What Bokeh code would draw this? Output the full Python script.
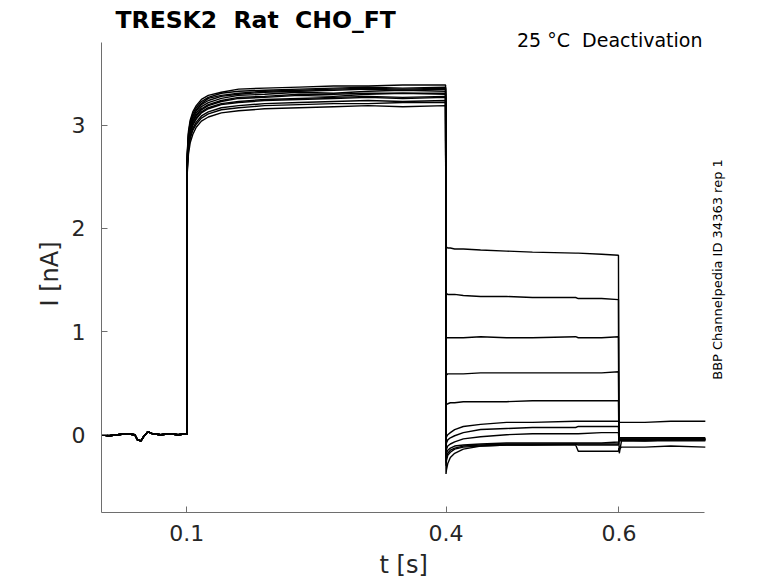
import math
from bokeh.plotting import figure
from bokeh.models import Range1d, FixedTicker, Label, Title
from bokeh.embed import file_html
from bokeh.resources import INLINE

# ---------------- data ----------------
x_ticks = [0.1, 0.4, 0.6]
x_tick_labels = ["0.1", "0.4", "0.6"]
y_ticks = [0, 1, 2, 3]
y_tick_labels = ["0", "1", "2", "3"]

# holding period before the pulse (shared by all sweeps)
t_pre = [0.0, 0.01, 0.02, 0.03, 0.04, 0.043, 0.047, 0.05, 0.055, 0.06, 0.07, 0.08, 0.09, 0.0995]
i_pre = [0.0, -0.01, 0.0, 0.01, 0.0, -0.05, -0.06, -0.02, 0.03, 0.01, 0.0, 0.01, 0.0, 0.01]

# activation step
t_act = [0.1, 0.1005, 0.102, 0.104, 0.107, 0.111, 0.117, 0.125, 0.14, 0.16, 0.19, 0.23, 0.27, 0.31, 0.35, 0.3995]
i_act = [
    [0.0, 2.62, 2.84, 2.95, 3.03, 3.09, 3.15, 3.19, 3.23, 3.26, 3.27, 3.29, 3.28, 3.30, 3.31, 3.30],
    [0.0, 2.68, 2.91, 3.01, 3.09, 3.15, 3.21, 3.26, 3.29, 3.31, 3.33, 3.34, 3.35, 3.36, 3.35, 3.36],
    [0.0, 2.55, 2.76, 2.87, 2.95, 3.01, 3.07, 3.11, 3.15, 3.17, 3.19, 3.20, 3.21, 3.21, 3.22, 3.22],
    [0.0, 2.64, 2.87, 2.98, 3.06, 3.12, 3.18, 3.22, 3.26, 3.29, 3.30, 3.32, 3.31, 3.33, 3.34, 3.33],
    [0.0, 2.60, 2.81, 2.92, 3.00, 3.06, 3.12, 3.16, 3.20, 3.22, 3.24, 3.25, 3.26, 3.27, 3.26, 3.27],
    [0.0, 2.72, 2.94, 3.05, 3.13, 3.19, 3.25, 3.29, 3.32, 3.35, 3.36, 3.37, 3.38, 3.38, 3.39, 3.39],
    [0.0, 2.52, 2.72, 2.83, 2.91, 2.98, 3.04, 3.08, 3.12, 3.14, 3.16, 3.17, 3.18, 3.19, 3.18, 3.19],
    [0.0, 2.63, 2.85, 2.96, 3.04, 3.10, 3.16, 3.20, 3.24, 3.27, 3.28, 3.30, 3.30, 3.31, 3.31, 3.31],
    [0.0, 2.66, 2.89, 3.00, 3.08, 3.14, 3.20, 3.24, 3.28, 3.30, 3.32, 3.33, 3.34, 3.35, 3.34, 3.35],
    [0.0, 2.57, 2.78, 2.89, 2.97, 3.03, 3.09, 3.13, 3.17, 3.19, 3.21, 3.22, 3.23, 3.24, 3.23, 3.24],
    [0.0, 2.70, 2.92, 3.03, 3.11, 3.17, 3.23, 3.27, 3.31, 3.33, 3.34, 3.35, 3.36, 3.37, 3.36, 3.37],
    [0.0, 2.61, 2.82, 2.93, 3.01, 3.07, 3.13, 3.17, 3.21, 3.23, 3.25, 3.26, 3.27, 3.28, 3.27, 3.28],
]

# deactivation (tail) step
t_tail = [0.4, 0.4005, 0.402, 0.405, 0.41, 0.42, 0.44, 0.47, 0.5, 0.55, 0.553, 0.58, 0.5995]
i_tail = [
    [1.82, 1.82, 1.81, 1.81, 1.80, 1.80, 1.79, 1.78, 1.77, 1.76, 1.76, 1.75, 1.74],
    [1.36, 1.37, 1.36, 1.36, 1.36, 1.35, 1.34, 1.34, 1.33, 1.33, 1.32, 1.32, 1.31],
    [0.93, 0.94, 0.94, 0.94, 0.94, 0.94, 0.95, 0.94, 0.94, 0.95, 0.94, 0.94, 0.95],
    [0.57, 0.58, 0.59, 0.59, 0.59, 0.59, 0.60, 0.60, 0.60, 0.60, 0.60, 0.60, 0.61],
    [0.28, 0.29, 0.30, 0.31, 0.31, 0.32, 0.32, 0.32, 0.33, 0.33, 0.33, 0.33, 0.33],
    [-0.05, -0.02, 0.00, 0.02, 0.05, 0.08, 0.10, 0.12, 0.12, 0.13, 0.13, 0.13, 0.13],
    [-0.12, -0.08, -0.05, -0.03, -0.01, 0.02, 0.05, 0.06, 0.07, 0.07, 0.08, 0.08, 0.08],
    [-0.18, -0.14, -0.11, -0.09, -0.07, -0.04, -0.02, 0.00, 0.01, 0.01, 0.01, 0.02, 0.02],
    [-0.22, -0.18, -0.15, -0.13, -0.11, -0.10, -0.09, -0.08, -0.08, -0.08, -0.08, -0.08, -0.07],
    [-0.27, -0.22, -0.18, -0.15, -0.13, -0.11, -0.10, -0.09, -0.09, -0.09, -0.09, -0.09, -0.09],
    [-0.38, -0.34, -0.28, -0.22, -0.18, -0.14, -0.11, -0.10, -0.10, -0.09, -0.10, -0.10, -0.10],
    [-0.30, -0.25, -0.20, -0.17, -0.14, -0.12, -0.11, -0.10, -0.10, -0.10, -0.16, -0.16, -0.16],
]

# after the tail step
t_post = [0.6, 0.6005, 0.603, 0.63, 0.66, 0.7]
i_post = [
    [-0.04, -0.05, -0.05, -0.05, -0.04, -0.04],
    [-0.05, -0.05, -0.05, -0.05, -0.05, -0.04],
    [-0.06, -0.18, -0.06, -0.06, -0.05, -0.05],
    [-0.04, -0.04, -0.04, -0.04, -0.04, -0.04],
    [-0.05, -0.05, -0.05, -0.06, -0.05, -0.05],
    [0.12, 0.12, 0.12, 0.12, 0.13, 0.13],
    [-0.03, -0.03, -0.03, -0.03, -0.03, -0.03],
    [-0.05, -0.05, -0.05, -0.05, -0.05, -0.05],
    [-0.06, -0.06, -0.06, -0.06, -0.06, -0.06],
    [-0.04, -0.04, -0.04, -0.04, -0.04, -0.04],
    [-0.05, -0.05, -0.05, -0.05, -0.05, -0.05],
    [-0.13, -0.14, -0.12, -0.12, -0.11, -0.12],
]

NBSP = "\u00a0"
title_text = "TRESK2" + NBSP + " Rat" + NBSP + " CHO_FT"
condition_text = "25 °C" + NBSP + " Deactivation"
id_text = "BBP Channelpedia ID 34363 rep 1"
x_label = "t [s]"
y_label = "I [nA]"

# axis extents (the visible spines)
x_axis_start, x_axis_end = 0.0014, 0.699
y_axis_start, y_axis_end = -0.754, 3.805

# ---------------- figure ----------------
FONT = "DejaVu Sans"
AXIS_COLOR = "#6e6e6e"
TEXT_COLOR = "#262626"

# the frame is extended to the top and right so the texts there can be drawn
# inside it; the axis lines are limited with `bounds`
p = figure(frame_width=669, frame_height=510, output_backend="svg", toolbar_location=None,
           x_range=Range1d(x_axis_start, 0.7754), y_range=Range1d(y_axis_start, 4.19),
           min_border_left=101, min_border_right=6, min_border_top=2, min_border_bottom=69)
p.title.visible = False
p.outline_line_color = None
p.xgrid.visible = False
p.ygrid.visible = False
p.background_fill_color = "white"
p.border_fill_color = "white"

xs = []
ys = []
for k in range(len(i_act)):
    xs.append(t_pre + t_act + t_tail + t_post)
    ys.append(i_pre + i_act[k] + i_tail[k] + i_post[k])
p.multi_line(xs, ys, line_color="black", line_width=1.4)

for ax, ticks, labels in ((p.xaxis, x_ticks, x_tick_labels), (p.yaxis, y_ticks, y_tick_labels)):
    ax.ticker = FixedTicker(ticks=ticks)
    ax.major_label_overrides = {t: l for t, l in zip(ticks, labels)}
    ax.axis_line_color = AXIS_COLOR
    ax.major_tick_line_color = AXIS_COLOR
    ax.minor_tick_line_color = None
    ax.major_tick_in = 6
    ax.major_tick_out = 0
    ax.major_label_text_font = FONT
    ax.major_label_text_font_size = "22px"
    ax.major_label_text_color = TEXT_COLOR

p.xaxis.bounds = (x_axis_start, x_axis_end)
p.yaxis.bounds = (y_axis_start, y_axis_end)
p.xaxis.major_label_standoff = 12
p.yaxis.major_label_standoff = 16

# axis titles, placed along the visible part of the axes
p.add_layout(Title(text=x_label, align="left", offset=278, standoff=10,
                   text_font=FONT, text_font_size="24px", text_font_style="normal",
                   text_color=TEXT_COLOR), "below")
p.add_layout(Title(text=y_label, align="left", offset=206, standoff=10,
                   text_font=FONT, text_font_size="24px", text_font_style="normal",
                   text_color=TEXT_COLOR), "left")

# texts in screen units, relative to the frame's lower-left corner
p.add_layout(Label(x=14, y=493, x_units="screen", y_units="screen", text=title_text,
                   text_font=FONT, text_font_size="23.5px", text_font_style="bold",
                   text_color="black", text_align="left", text_baseline="alphabetic"))
p.add_layout(Label(x=601, y=473, x_units="screen", y_units="screen", text=condition_text,
                   text_font=FONT, text_font_size="19px", text_color="black",
                   text_align="right", text_baseline="alphabetic"))
p.add_layout(Label(x=616, y=243, x_units="screen", y_units="screen", text=id_text,
                   angle=math.pi / 2, text_font=FONT, text_font_size="13px",
                   text_color="black", text_align="center", text_baseline="middle"))

open("out.html", "w").write(file_html(p, INLINE))
